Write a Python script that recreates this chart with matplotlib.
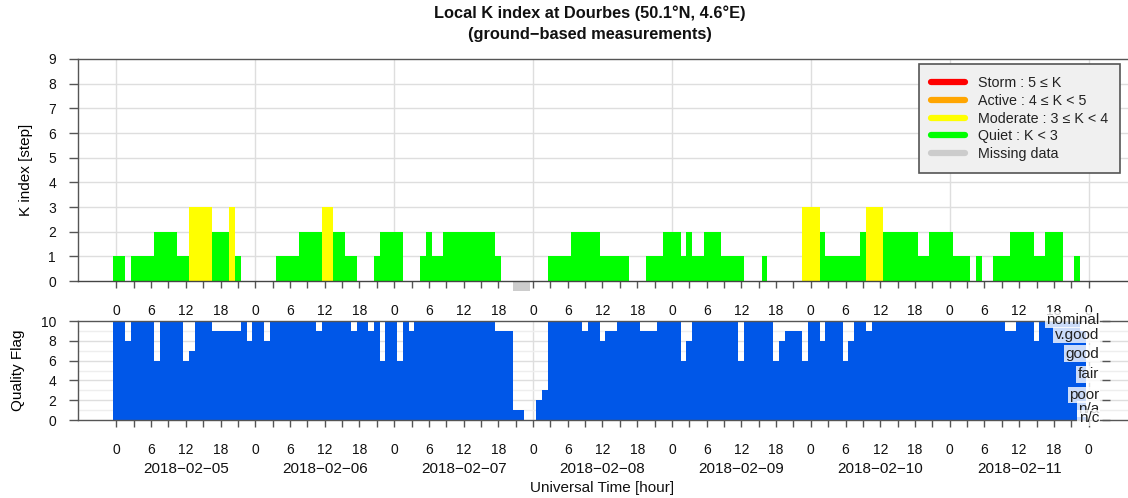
import numpy as np
import matplotlib
matplotlib.use("Agg")
import matplotlib.pyplot as plt
from matplotlib.lines import Line2D
from matplotlib.transforms import blended_transform_factory

plt.rcParams['font.family'] = ['Liberation Sans', 'DejaVu Sans']

# ---------------- data (hourly, 2018-02-05 00h .. 2018-02-11 23h) ----------------
k_day1 = [1, 1, 0, 1, 1, 1, 1, 2, 2, 2, 2, 1, 1, 3, 3, 3, 3, 2, 2, 2, 3, 1, 0, 0]
k_day2 = [0, 0, 0, 0, 1, 1, 1, 1, 2, 2, 2, 2, 3, 3, 2, 2, 1, 1, 0, 0, 0, 1, 2, 2]
k_day3 = [2, 2, 0, 0, 0, 1, 2, 1, 1, 2, 2, 2, 2, 2, 2, 2, 2, 2, 1, 0, 0, np.nan, np.nan, np.nan]
k_day4 = [0, 0, 0, 1, 1, 1, 1, 2, 2, 2, 2, 2, 1, 1, 1, 1, 1, 0, 0, 0, 1, 1, 1, 2]
k_day5 = [2, 2, 1, 2, 1, 1, 2, 2, 2, 1, 1, 1, 1, 0, 0, 0, 1, 0, 0, 0, 0, 0, 0, 3]
k_day6 = [3, 3, 2, 1, 1, 1, 1, 1, 1, 2, 3, 3, 3, 2, 2, 2, 2, 2, 2, 1, 1, 2, 2, 2]
k_day7 = [2, 1, 1, 1, 0, 1, 0, 0, 1, 1, 1, 2, 2, 2, 2, 1, 1, 2, 2, 2, 0, 0, 1, 0]

q_day1 = [10, 10, 8, 10, 10, 10, 10, 6, 10, 10, 10, 10, 6, 7, 10, 10, 10, 9, 9, 9, 9, 9, 10, 8]
q_day2 = [10, 10, 8, 10, 10, 10, 10, 10, 10, 10, 10, 9, 10, 10, 10, 10, 10, 9, 10, 10, 9, 10, 6, 10]
q_day3 = [10, 6, 10, 9, 10, 10, 10, 10, 10, 10, 10, 10, 10, 10, 10, 10, 10, 10, 9, 9, 9, 1, 1, 0]
q_day4 = [0, 2, 3, 10, 10, 10, 10, 10, 10, 9, 10, 10, 8, 9, 9, 10, 10, 10, 10, 9, 9, 9, 10, 10]
q_day5 = [10, 10, 6, 8, 10, 10, 10, 10, 10, 10, 10, 10, 6, 10, 10, 10, 10, 10, 6, 8, 9, 9, 9, 6]
q_day6 = [10, 10, 8, 10, 10, 10, 6, 8, 10, 10, 9, 10, 10, 10, 10, 10, 10, 10, 10, 10, 10, 10, 10, 10]
q_day7 = [10, 10, 10, 10, 10, 10, 10, 10, 10, 10, 9, 9, 10, 10, 10, 8, 10, 10, 10, 10, 10, 10, 10, 9]

dates = ["2018\u221202\u221205", "2018\u221202\u221206", "2018\u221202\u221207", "2018\u221202\u221208",
         "2018\u221202\u221209", "2018\u221202\u221210", "2018\u221202\u221211"]

quality_names = ["nominal", "v.good", "good", "fair", "poor", "n/a", "n/c"]
quality_name_pos = [10.1, 8.6, 6.7, 4.6, 2.5, 1.1, 0.2]

legend_labels = ["Storm : 5 \u2264 K", "Active : 4 \u2264 K < 5", "Moderate : 3 \u2264 K < 4",
                 "Quiet : K < 3", "Missing data"]
legend_colors = ["#ff0000", "#ffa500", "#ffff00", "#00ff00", "#cccccc"]

k_index = np.array(k_day1 + k_day2 + k_day3 + k_day4 + k_day5 + k_day6 + k_day7, dtype=float)
quality = np.array(q_day1 + q_day2 + q_day3 + q_day4 + q_day5 + q_day6 + q_day7, dtype=float)
hours = np.arange(len(k_index))

# ---------------- styling ----------------
GRID = "#dedede"
AX = "#555555"
BLUE = "#0057e8"


def kcolor(k):
    if k >= 5:
        return legend_colors[0]
    if k >= 4:
        return legend_colors[1]
    if k >= 3:
        return legend_colors[2]
    return legend_colors[3]


fig = plt.figure(figsize=(11.28, 4.98), dpi=100)
W, H = 1128.0, 498.0
left_px, right_px = 77.5, 1127.5
ax1 = fig.add_axes([left_px / W, 1 - 281 / H, (right_px - left_px) / W, (281 - 59) / H])
ax2 = fig.add_axes([left_px / W, 1 - 420 / H, (right_px - left_px) / W, (420 - 321) / H])

xlim = (-6.72, 174.72)
xt = np.arange(0, 169, 3)
xtl = [str(h % 24) if h % 6 == 0 else "" for h in xt]

for ax in (ax1, ax2):
    ax.set_xlim(*xlim)
    ax.set_xticks(xt)
    ax.set_xticklabels(xtl)
    ax.tick_params(axis='x', direction='out', length=5.2, width=1, color=AX,
                   labelsize=10, pad=11.5, labelcolor="#111111")
    ax.tick_params(axis='y', direction='out', length=6.5, width=1, color=AX,
                   labelsize=10, pad=9, labelcolor="#111111")
    for s in ax.spines.values():
        s.set_color(AX)
        s.set_linewidth(1.0)
    ax.spines['right'].set_visible(False)
    for d in range(0, 169, 24):
        ax.axvline(d, color=GRID, lw=1.0, zorder=0)

# ---- top panel: K index
ax1.set_ylim(0, 9)
ax1.set_yticks(range(10))
for y in range(1, 9):
    ax1.axhline(y, color=GRID, lw=1.0, zorder=0)
valid = ~np.isnan(k_index)
ax1.bar(hours[valid], k_index[valid], width=1.0, align='center',
        color=[kcolor(k) for k in k_index[valid]], linewidth=0, zorder=2)
miss = np.isnan(k_index)
ax1.bar(hours[miss], np.full(miss.sum(), 0.4), bottom=-0.4, width=1.0,
        color=legend_colors[4], linewidth=0, zorder=2, clip_on=False)
ax1.spines['bottom'].set_color("#444444")
ax1.set_ylabel("K index [step]", fontsize=11, labelpad=11)

handles = [Line2D([0], [0], color=c, lw=4.5, solid_capstyle='round') for c in legend_colors]
leg = ax1.legend(handles, legend_labels, loc='upper left', bbox_to_anchor=(0.8014, 0.976),
                 frameon=True, fancybox=False, edgecolor="#555555", facecolor="#f0f0f0",
                 framealpha=1.0, fontsize=10.3, handlelength=2.4, handletextpad=0.85,
                 labelspacing=0.25, borderpad=0.85, borderaxespad=0)
leg.get_frame().set_linewidth(1.2)
for t in leg.get_texts():
    t.set_color("#222222")

fig.text(590 / W, 1 - 13 / H, "Local K index at Dourbes (50.1\u00b0N, 4.6\u00b0E)",
         ha='center', va='center', fontsize=11.8, fontweight='bold', color="#111111")
fig.text(590 / W, 1 - 34 / H, "(ground\u2212based measurements)",
         ha='center', va='center', fontsize=11.8, fontweight='bold', color="#111111")

# ---- bottom panel: quality flag
ax2.set_ylim(0, 10)
ax2.set_yticks(range(0, 11, 2))
for y in range(1, 10):
    ax2.axhline(y, color=GRID if y % 2 == 0 else "#eeeeee", lw=1.0, zorder=0)
ax2.bar(hours, quality, width=1.0, align='center', color=BLUE, linewidth=0, zorder=2)
ax2.set_ylabel("Quality Flag", fontsize=11, labelpad=11)

# small ticks on the right of the quality names
sec = ax2.secondary_yaxis((1102 - left_px) / (right_px - left_px))
sec.set_yticks(range(0, 11, 2))
sec.set_yticklabels([])
sec.tick_params(axis='y', direction='out', length=6, width=1, color=AX)
sec.spines['right'].set_visible(False)
sec.spines['left'].set_visible(False)

tr = blended_transform_factory(ax2.transAxes, ax2.transData)
qx = (1099 - left_px) / (right_px - left_px)
for name, yp in zip(quality_names, quality_name_pos):
    ax2.text(qx, yp, name, transform=tr, ha='right', va='center', fontsize=11,
             color="#222222", zorder=5,
             bbox=dict(boxstyle='square,pad=0.08', fc='white', ec='none', alpha=0.8))

trd = blended_transform_factory(ax2.transData, ax2.transAxes)
for i, dname in enumerate(dates):
    ax2.text(24 * i + 12, -0.49, dname, transform=trd, ha='center', va='center',
             fontsize=11, color="#111111")
ax2.text(0.5 * (xlim[0] + xlim[1]), -0.685, "Universal Time [hour]", transform=trd,
         ha='center', va='center', fontsize=11, color="#111111")

fig.savefig("out.png", dpi=100)
